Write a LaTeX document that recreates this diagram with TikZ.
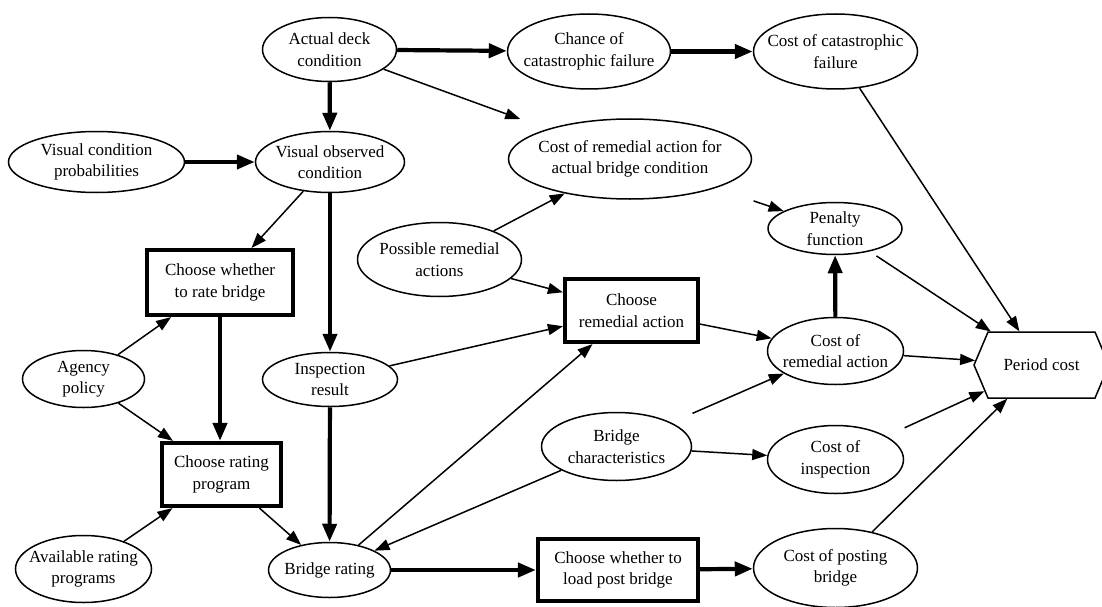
\documentclass[tikz,border=0pt]{standalone}
\usepackage{fontspec}
\setmainfont{Liberation Serif}
\usetikzlibrary{arrows.meta,shapes.geometric,shapes.symbols}
\begin{document}
\begin{tikzpicture}[x=1pt,y=-1pt,
  font=\fontsize{17}{21.5}\selectfont,
  ell/.style={ellipse, draw, line width=1.5pt, inner xsep=-60pt, inner ysep=-30pt, align=center},
  dec/.style={rectangle, draw, line width=4.2pt, inner sep=0pt, align=center},
  athin/.style={-{Triangle[length=15pt,width=11pt]}, line width=1.5pt},
  athick/.style={-{Triangle[length=18pt,width=14pt]}, line width=4.2pt}]
\useasboundingbox (0,0) rectangle (1102,607);
\clip (0,0) rectangle (1102,607);

\node[ell, minimum width=134pt, minimum height=64pt] (adc) at (329.5,49.5) {Actual deck\\condition};
\node[ell, minimum width=163pt, minimum height=75pt] (chance) at (589,51.5) {Chance of\\catastrophic failure};
\node[ell, minimum width=164pt, minimum height=75pt] (costcat) at (835.5,51.5) {Cost of catastrophic\\failure};
\node[ell, minimum width=176pt, minimum height=61pt] (vcp) at (96.5,162) {Visual condition\\probabilities};
\node[ell, minimum width=149pt, minimum height=61pt] (voc) at (330,162) {Visual observed\\condition};
\node[ell, minimum width=243pt, minimum height=80pt] (cract) at (630,159) {Cost of remedial action for\\actual bridge condition};
\node[ell, minimum width=164pt, minimum height=74pt] (prem) at (439.5,259.5) {Possible remedial\\actions};
\node[dec, minimum width=146pt, minimum height=65pt] (rate) at (220,282.5) {Choose whether\\to rate bridge};
\node[ell, minimum width=122pt, minimum height=57pt] (agency) at (83.5,379) {Agency\\policy};
\node[ell, minimum width=135pt, minimum height=54pt] (insp) at (330,379.5) {Inspection\\result};
\node[dec, minimum width=133pt, minimum height=63pt] (crem) at (631.5,310.5) {Choose\\remedial action};
\node[ell, minimum width=134pt, minimum height=52pt] (penalty) at (835,228.5) {Penalty\\function};
\node[ell, minimum width=136pt, minimum height=67pt] (costrem) at (835.5,351) {Cost of\\remedial action};
\node[signal, draw, line width=1.5pt, signal to=west and east, signal pointer angle=134,
      minimum width=135pt, minimum height=66pt, inner sep=0pt] (period) at (1041.5,365) {Period cost};
\node[dec, minimum width=119pt, minimum height=63pt] (crp) at (221.5,474.5) {Choose rating\\program};
\node[ell, minimum width=136pt, minimum height=67pt] (arp) at (83.5,569) {Available rating\\programs};
\node[ell, minimum width=122pt, minimum height=55pt] (brating) at (329.5,570) {Bridge rating};
\node[ell, minimum width=150pt, minimum height=68pt] (bchar) at (616.5,446.5) {Bridge\\characteristics};
\node[ell, minimum width=136pt, minimum height=68pt] (costinsp) at (835.5,459.5) {Cost of\\inspection};
\node[dec, minimum width=160pt, minimum height=62pt] (load) at (618,570) {Choose whether to\\load post bridge};
\node[ell, minimum width=164pt, minimum height=79pt] (costpost) at (835.5,568) {Cost of posting\\bridge};

\draw[athick] (adc) -- (chance);
\draw[athick] (chance) -- (costcat);
\draw[athick] (adc) -- (voc);
\draw[athin, shorten >=29pt] (adc) -- (cract);
\draw[athick] (vcp) -- (voc);
\draw[athin] (voc) -- (rate);
\draw[athick] (voc) -- (insp);
\draw[athin] (costcat) -- (period);
\draw[athin] (prem) -- (cract);
\draw[athin] (prem) -- (crem);
\draw[athin, shorten <=40pt] (cract) -- (penalty);
\draw[athin] (agency) -- (rate);
\draw[athin] (agency) -- (crp);
\draw[athick] (rate.south) -- (rate.south |- crp.north);
\draw[athin] (insp) -- (crem);
\draw[athick] (insp) -- (brating);
\draw[athin] (crem) -- (costrem);
\draw[athick] (costrem) -- (penalty);
\draw[athin, shorten <=8pt] (penalty) -- (period);
\draw[athin] (costrem) -- (period);
\draw[athin] (arp) -- (crp);
\draw[athin] (crp) -- (brating);
\draw[athin] (brating) -- (crem);
\draw[athin] (bchar) -- (brating);
\draw[athin] (bchar) -- (costinsp);
\draw[athin, shorten <=23pt] (bchar) -- (costrem);
\draw[athin, shorten <=20pt] (costinsp) -- (period);
\draw[athick] (brating) -- (load);
\draw[athick] (load) -- (costpost);
\draw[athin] (costpost) -- (period);
\end{tikzpicture}
\end{document}
